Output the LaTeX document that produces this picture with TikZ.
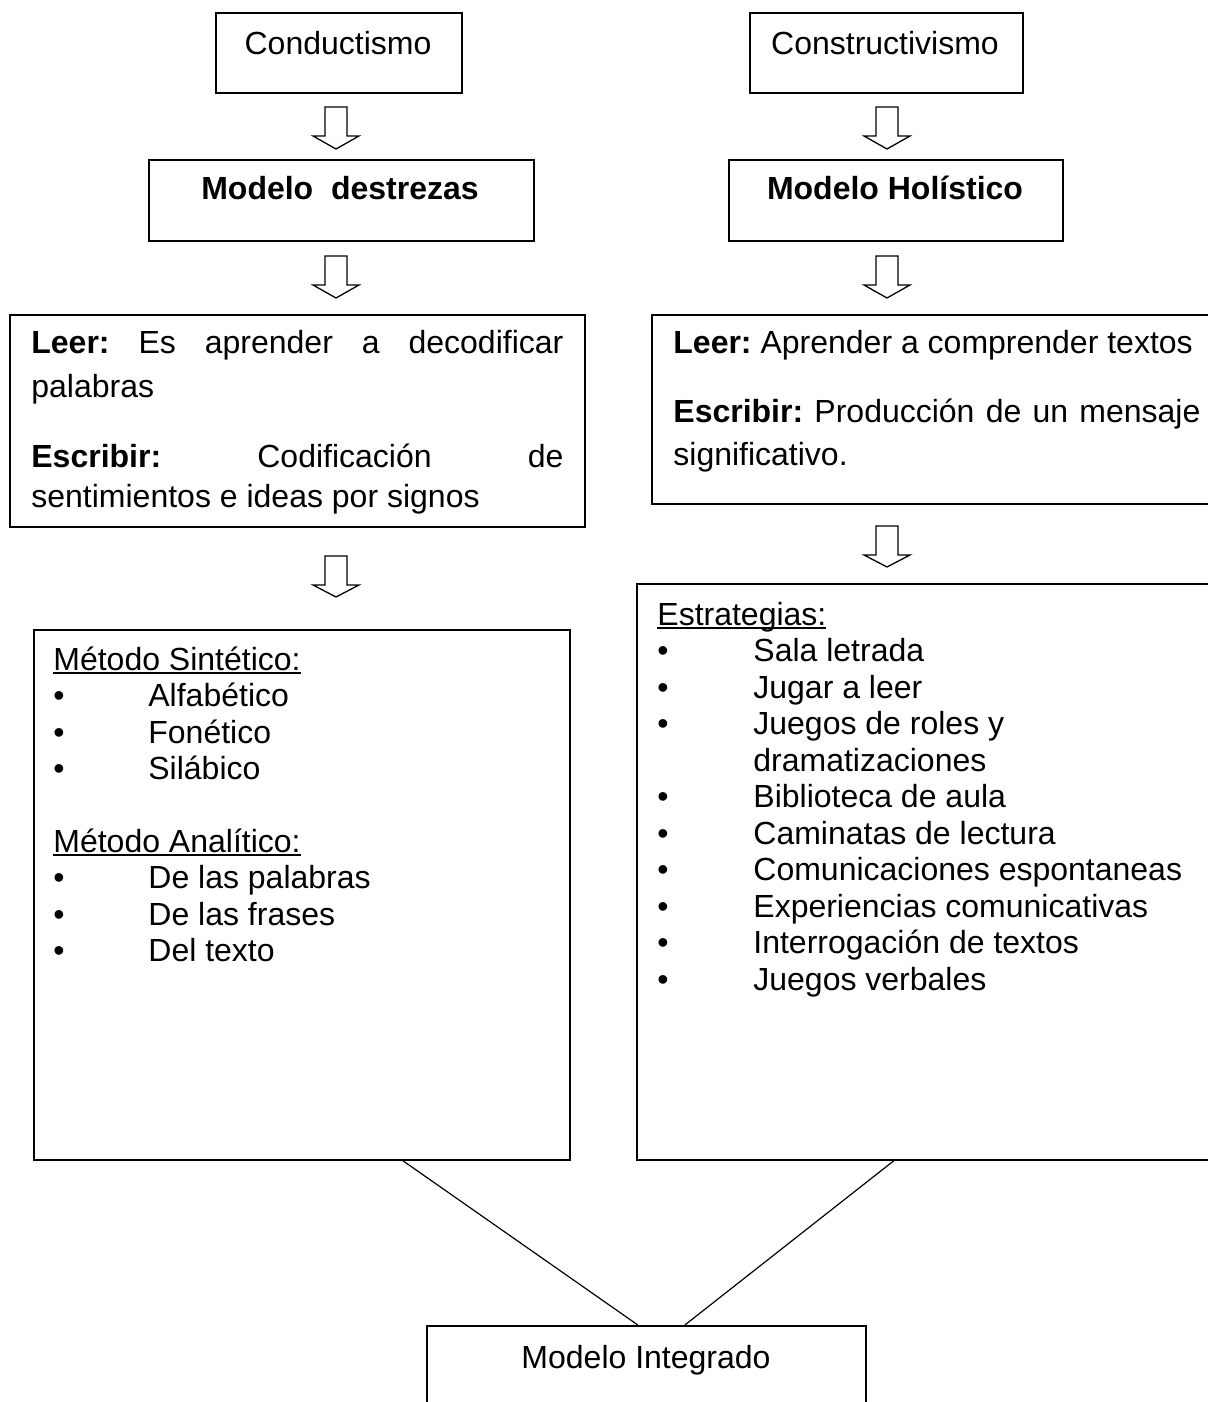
\documentclass[tikz,border=0pt]{standalone}
\usepackage{fontspec}
\setmainfont{Liberation Sans}
\frenchspacing
\newcommand\headul[1]{\setbox0=\hbox{#1}\rlap{\rule[-2pt]{\wd0}{1pt}}\box0}
\newcommand\hollowdown[4]{% centre x, top y, head y, tip y
  \draw[line width=0.65pt] (#1-11,#2) -- (#1+11,#2) -- (#1+11,#3) -- (#1+23,#3)
    -- (#1,#4) -- (#1-23,#3) -- (#1-11,#3) -- cycle;}
\begin{document}
\begin{tikzpicture}[x=0.5pt,y=-0.5pt]
\tikzset{
  frame/.style={draw, line width=0.85pt, inner sep=0pt, anchor=north west},
  txt/.style={inner sep=0pt, anchor=base west, font=\fontsize{16}{19}\selectfont},
  ctxt/.style={txt, anchor=base},
  link/.style={line width=0.6pt}
}
\useasboundingbox (0,0) rectangle (1208,1402);
\clip (0,0) rectangle (1208,1402);

% boxes
\node[frame, minimum width=123pt,   minimum height=40pt]   (cond)  at (215,12)   {};
\node[frame, minimum width=136.5pt, minimum height=40pt]   (cons)  at (749,12)   {};
\node[frame, minimum width=192.5pt, minimum height=40.5pt] (dest)  at (148,159)  {};
\node[frame, minimum width=167pt,   minimum height=40.5pt] (hol)   at (728,159)  {};
\node[frame, minimum width=287.5pt, minimum height=106pt]  (leerL) at (9,314)    {};
\node[frame, minimum width=300pt,   minimum height=94.5pt] (leerR) at (651,314)  {};
\node[frame, minimum width=268pt,   minimum height=265pt]  (met)   at (33,629)   {};
\node[frame, minimum width=300pt,   minimum height=288pt]  (est)   at (636,583)  {};
\node[frame, minimum width=219.5pt, minimum height=50pt]   (integ) at (426,1325) {};

% titles
\node[ctxt] (condT) at (338,55)  {Conductismo};
\node[ctxt] (consT) at (885,55)  {Constructivismo};
\node[ctxt] (destT) at (340,199) {\textbf{Modelo\ \ destrezas}};
\node[ctxt] (holT)  at (895,199) {\textbf{Modelo Holístico}};
\node[ctxt] (intT)  at (646,1368) {Modelo Integrado};

% hollow arrows
\hollowdown{336}{107}{136}{149}
\hollowdown{336}{256}{285}{298}
\hollowdown{336}{556}{585}{597}
\hollowdown{887}{107}{136}{149}
\hollowdown{887}{256}{285}{298}
\hollowdown{887}{526}{555}{567}

% left definitions
\node[txt] (lL1) at (31,353) {\makebox[266pt][s]{\textbf{Leer:} Es aprender a decodificar}};
\node[txt] (lL2) at (31,397) {palabras};
\node[txt] (lL3) at (31,467) {\makebox[266pt][s]{\textbf{Escribir:} Codificación de}};
\node[txt] (lL4) at (31,507) {sentimientos e ideas por signos};

% right definitions
\node[txt] (lR1) at (673,353) {\textbf{Leer:} Aprender a comprender textos};
\node[txt] (lR2) at (673,422) {\makebox[263.5pt][s]{\textbf{Escribir:} Producción de un mensaje}};
\node[txt] (lR3) at (673,465) {significativo.};

% methods
\node[txt] (mH1) at (53,670) {\headul{Método Sintético:}};
\node[txt] (mb1) at (53,706) {•}; \node[txt] (m1) at (148,706) {Alfabético};
\node[txt] (mb2) at (53,743) {•}; \node[txt] (m2) at (148,743) {Fonético};
\node[txt] (mb3) at (53,779) {•}; \node[txt] (m3) at (148,779) {Silábico};
\node[txt] (mH2) at (53,852) {\headul{Método Analítico:}};
\node[txt] (mb4) at (53,888) {•}; \node[txt] (m4) at (148,888) {De las palabras};
\node[txt] (mb5) at (53,925) {•}; \node[txt] (m5) at (148,925) {De las frases};
\node[txt] (mb6) at (53,961) {•}; \node[txt] (m6) at (148,961) {Del texto};

% strategies
\node[txt] (eH)  at (657,625) {\headul{Estrategias:}};
\node[txt] (eb1) at (657,661) {•}; \node[txt] (e1) at (753,661) {Sala letrada};
\node[txt] (eb2) at (657,698) {•}; \node[txt] (e2) at (753,698) {Jugar a leer};
\node[txt] (eb3) at (657,734) {•}; \node[txt] (e3) at (753,734) {Juegos de roles y};
                                   \node[txt] (e3b) at (753,771) {dramatizaciones};
\node[txt] (eb4) at (657,807) {•}; \node[txt] (e4) at (753,807) {Biblioteca de aula};
\node[txt] (eb5) at (657,844) {•}; \node[txt] (e5) at (753,844) {Caminatas de lectura};
\node[txt] (eb6) at (657,880) {•}; \node[txt] (e6) at (753,880) {Comunicaciones espontaneas};
\node[txt] (eb7) at (657,917) {•}; \node[txt] (e7) at (753,917) {Experiencias comunicativas};
\node[txt] (eb8) at (657,953) {•}; \node[txt] (e8) at (753,953) {Interrogación de textos};
\node[txt] (eb9) at (657,990) {•}; \node[txt] (e9) at (753,990) {Juegos verbales};

% links into the integrated model
\draw[link] ([xshift=50.5pt]met.south) -- ([xshift=-4.25pt]integ.north);
\draw[link] ([xshift=-21.5pt]est.south) -- ([xshift=19.25pt]integ.north);
\end{tikzpicture}
\end{document}
